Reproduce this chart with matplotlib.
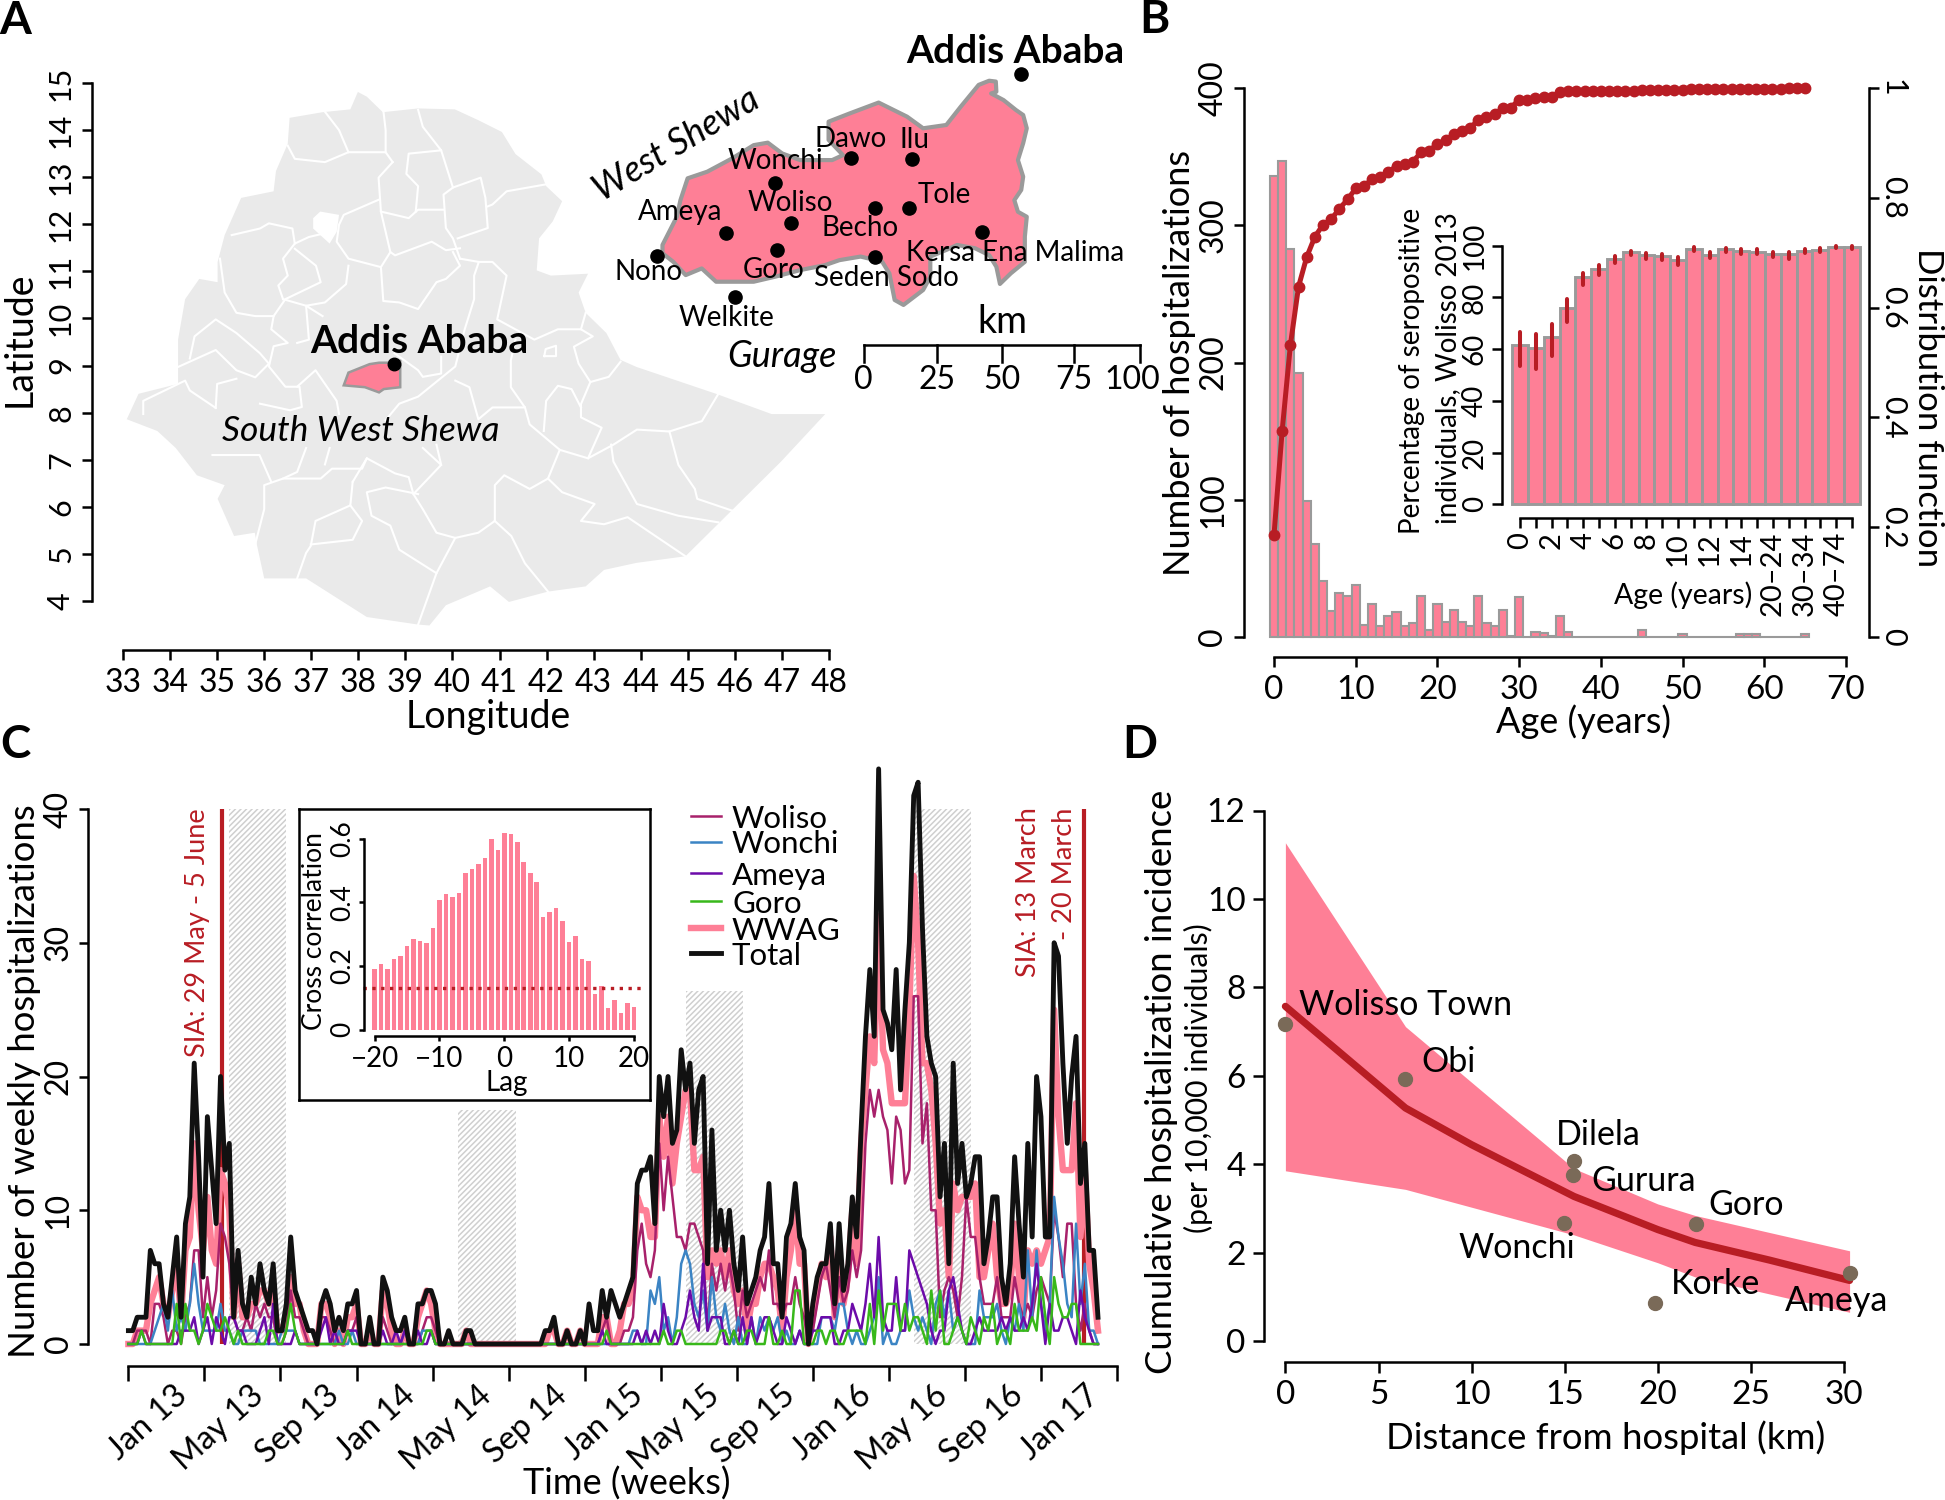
import numpy as np
import matplotlib
matplotlib.use('Agg')
import matplotlib.pyplot as plt
from matplotlib.lines import Line2D

plt.rcParams['font.family'] = ['Lato', 'DejaVu Sans']
plt.rcParams['hatch.linewidth'] = 1.1

W, H = 1945, 1500
PINK = '#FE7F96'
RED = '#B81D24'
GREY = '#9A9A9A'
LAND = '#EAEAEA'

# ---- panel A: map, lon/lat
land_lon = [36.54, 37.24, 37.83, 37.99, 38.18, 38.52, 39.27, 40.05, 40.55, 41.05, 41.34, 41.89, 41.99, 42.33, 42.13,
            41.84, 41.79, 42.09, 42.88, 42.68, 42.83, 43.27, 43.57, 43.91, 45.6, 46.78, 47.92, 46.98, 45.89, 44.95,
            43.91, 43.22, 42.83, 42.03, 41.2, 40.8, 39.86, 39.51, 39.27, 38.18, 36.89, 36.0, 35.85, 35.8, 35.36,
            35.01, 35.16, 34.57, 34.12, 33.73, 33.08, 33.33, 34.17, 34.17, 34.32, 34.62, 35.01, 35.01, 35.16, 35.51,
            36.2, 36.25, 36.5]
land_lat = [14.26, 14.38, 14.44, 14.81, 14.71, 14.38, 14.46, 14.44, 14.21, 13.96, 13.49, 13.06, 12.81, 12.49, 12.06,
            11.7, 11.02, 10.91, 10.95, 10.55, 10.12, 9.69, 9.12, 8.97, 8.4, 7.97, 7.97, 6.96, 5.88, 4.95,
            4.81, 4.66, 4.31, 4.2, 3.98, 4.31, 3.91, 3.48, 3.5, 3.66, 4.48, 4.48, 5.17, 5.45, 5.38,
            6.17, 6.46, 6.67, 7.25, 7.61, 7.86, 8.4, 8.61, 9.55, 10.41, 10.84, 10.77, 11.2, 11.77, 12.56,
            12.7, 13.13, 13.71]
borders = [
    [(36.5, 13.67), (36.65, 13.39), (37.29, 13.32), (37.79, 13.53), (38.58, 13.53), (38.73, 13.32)],
    [(37.79, 13.53), (37.59, 14.0), (37.29, 14.39)],
    [(38.53, 14.43), (38.58, 14.0), (38.58, 13.53)],
    [(39.27, 14.43), (39.37, 14.07), (39.76, 13.57), (39.07, 13.5), (39.02, 13.07), (39.27, 12.81), (39.22, 12.27)],
    [(39.76, 13.57), (40.01, 12.78), (40.6, 12.99), (40.7, 12.56), (40.75, 11.92), (40.11, 11.7)],
    [(42.0, 12.85), (41.15, 12.7), (40.85, 12.42), (40.75, 12.38)],
    [(40.01, 12.78), (39.81, 12.63), (39.86, 11.92), (40.01, 11.7), (40.16, 11.27)],
    [(38.73, 13.32), (38.43, 12.99), (38.48, 12.27), (39.07, 12.13), (39.27, 12.31), (39.81, 12.31)],
    [(38.43, 12.52), (37.69, 12.2), (37.59, 11.99), (37.54, 11.63), (37.79, 11.27), (38.48, 11.09), (38.68, 11.41),
     (38.78, 11.34), (39.56, 11.63), (39.86, 11.45), (40.16, 11.49)],
    [(38.48, 12.27), (38.58, 11.84), (38.68, 11.41)],
    [(35.31, 11.77), (35.91, 11.91), (36.1, 12.02), (36.6, 11.91), (36.65, 11.59), (36.95, 11.73), (37.29, 11.81)],
    [(36.65, 11.59), (36.4, 11.27), (36.5, 10.91), (36.3, 10.7), (36.4, 10.41)],
    [(36.65, 11.48), (37.1, 11.12), (37.2, 10.77), (36.45, 10.41), (36.2, 10.05), (36.15, 9.77), (36.5, 9.48),
     (36.2, 9.41), (36.1, 8.98), (36.45, 8.55), (36.75, 8.55), (36.8, 8.12), (36.55, 8.05), (35.91, 8.19)],
    [(37.79, 11.12), (37.74, 10.73), (37.29, 10.34), (36.89, 10.27), (37.24, 10.05)],
    [(36.4, 10.41), (36.89, 10.27), (36.95, 9.55), (36.7, 9.48)],
    [(38.48, 11.09), (38.53, 10.37), (38.87, 10.34), (39.27, 10.2), (39.66, 10.77), (39.86, 10.84), (40.16, 11.12),
     (40.01, 11.41)],
    [(40.16, 11.27), (40.56, 11.2), (40.46, 10.91), (40.46, 10.41), (40.26, 9.77), (40.06, 8.98), (39.27, 8.34),
     (38.87, 8.19), (38.58, 7.84)],
    [(40.56, 11.2), (40.85, 11.2), (41.15, 10.91), (40.95, 9.98), (41.74, 9.55), (42.24, 9.77), (42.73, 9.77)],
    [(42.83, 10.12), (42.73, 9.77), (42.98, 9.62), (42.58, 9.4), (42.68, 9.04), (42.93, 8.65), (43.32, 8.76),
     (43.57, 9.08)],
    [(42.93, 8.65), (42.73, 8.18), (42.73, 7.9), (43.17, 7.68), (42.88, 7.03), (43.42, 7.32), (43.92, 7.64),
     (44.61, 7.6), (45.3, 7.82), (45.65, 8.4)],
    [(41.34, 9.55), (41.24, 9.11), (41.24, 8.54), (41.54, 8.11), (41.64, 7.75), (42.28, 7.21), (42.88, 7.03)],
    [(41.54, 8.11), (40.85, 8.11), (40.55, 7.86), (40.36, 8.54), (40.06, 8.68)],
    [(41.94, 7.61), (41.99, 8.25), (42.24, 8.57), (42.53, 8.5), (42.73, 8.11)],
    [(43.37, 7.32), (43.42, 6.96), (43.92, 6.06), (44.8, 5.81), (45.65, 5.67)],
    [(44.61, 7.6), (44.8, 6.89), (45.15, 6.38), (45.2, 6.17), (45.94, 5.92)],
    [(42.28, 7.21), (42.03, 6.6), (41.64, 6.38), (41.1, 6.67), (40.9, 6.46), (40.9, 5.7)],
    [(42.03, 6.6), (42.33, 6.31), (43.02, 6.06), (42.73, 5.7), (43.22, 5.63), (43.72, 5.78), (44.95, 4.95)],
    [(40.9, 5.7), (41.25, 5.38), (41.54, 4.8), (42.03, 4.2)],
    [(40.9, 5.7), (40.55, 5.45), (40.06, 5.34), (39.66, 4.59), (39.27, 3.5)],
    [(40.06, 5.34), (39.66, 5.45), (39.37, 5.95), (39.17, 6.27), (39.76, 6.89), (39.37, 7.25)],
    [(39.17, 6.27), (39.07, 6.63), (38.78, 6.71), (38.18, 7.03), (38.08, 6.81), (37.44, 6.81), (37.2, 6.6),
     (36.4, 6.6), (36.0, 6.46), (36.0, 5.95), (35.8, 5.17)],
    [(39.27, 6.27), (38.58, 6.41), (38.18, 6.31), (38.28, 5.81), (38.68, 5.6), (38.87, 5.09), (39.66, 4.59)],
    [(37.88, 6.53), (37.83, 6.03), (37.09, 5.7), (36.99, 5.17), (36.89, 5.02), (36.7, 4.48)],
    [(36.99, 5.2), (37.88, 5.3), (38.08, 5.7), (37.83, 6.03)],
    [(34.9, 7.1), (35.9, 7.1), (36.15, 6.53)],
    [(34.97, 8.1), (34.42, 8.47), (34.32, 8.68), (33.43, 8.25), (33.43, 7.97)],
    [(34.17, 8.97), (34.97, 9.33), (35.41, 8.9), (35.81, 8.75), (36.1, 9.04)],
    [(34.42, 9.15), (34.52, 9.62), (34.97, 9.98), (35.41, 9.69), (35.91, 9.26), (36.1, 9.04)],
    [(35.06, 11.27), (35.16, 10.55), (35.41, 10.12), (35.81, 10.05), (36.2, 10.05)],
    [(34.97, 8.1), (35.0, 8.61), (35.41, 8.72)],
    [(36.7, 8.55), (37.09, 8.9), (37.54, 8.25), (37.59, 7.97)],
    [(38.77, 9.26), (39.27, 8.9), (39.37, 8.76), (39.76, 8.83), (39.76, 9.19)],
    [(38.18, 7.03), (37.88, 6.53)],
    [(36.89, 7.25), (36.7, 6.74), (36.4, 6.6)],
    [(37.39, 7.25), (37.29, 6.9)],
    [(39.66, 7.32), (39.76, 6.89)],
    [(41.95, 9.2), (42.2, 9.2), (42.2, 9.42), (41.98, 9.35), (41.95, 9.2)],
]
lake_lon = [37.04, 37.19, 37.59, 37.54, 37.39, 37.04]
lake_lat = [12.13, 12.27, 12.2, 11.84, 11.59, 11.91]
zone_lon = [37.69, 37.79, 38.24, 38.44, 38.69, 38.89, 38.89, 38.54, 38.44, 38.14]
zone_lat = [8.58, 8.85, 9.03, 9.06, 9.06, 9.1, 8.54, 8.5, 8.43, 8.54]

# enlarged zone, km from the scale bar origin
zoom_x = [45.4, 47.8, 48, 46.1, 50.6, 55.1, 57.7, 59, 57.7, 55.8, 57.7, 57, 54.5, 55.8, 59, 58.3, 58.3, 53.2, 49.3, 48,
          45.4, 40.3, 33.8, 29.9, 24.1, 24.1, 21.5, 14.4, 11.2, 9.3, 6.7, -1.1, -8.8, -14, -23, -32.1, -39.8, -46.3,
          -53.4, -58.6, -64.4, -68.9, -72.8, -72.8, -67.6, -66.3, -63.7, -56.6, -47.6, -39.8, -34.7, -29.5, -23,
          -11.4, -7.5, -12.7, -12.7, -5, 5.4, 15.7, 21.5, 29.9, 35.1, 41.6]
zoom_y = [95.6, 95.3, 91.6, 91, 88.6, 85, 83.2, 78.4, 73, 66.9, 60.9, 56.1, 52.4, 48.2, 46.4, 39.2, 30.1, 25.9, 22.1, 28.3,
          32.5, 35, 36.2, 34.4, 32, 24.7, 19.9, 14.5, 16.3, 25.9, 30.1, 32, 30.7, 28.9, 27.1, 24.7, 22.9, 22.9,
          22.9, 27.7, 25.3, 30.1, 33.2, 36.2, 46.4, 52.4, 60.3, 62.7, 67.5, 72.3, 73.2, 69.3, 66.9,
          66.9, 68.7, 74.2, 80.8, 83.8, 87.7, 82.6, 78.4, 79.6, 86.2, 94.1]
town_x = [56.8, -4.7, 17.3, -32, -26.4, -49.8, -31.2, 4, 16.4, 42.8, 4, -74.7, -46.4]
town_y = [97.9, 67.6, 67.3, 58.6, 44.2, 40.6, 34.2, 49.7, 49.7, 40.9, 31.7, 32.1, 17.4]
town_names = ['Dawo', 'Ilu', 'Wonchi', 'Tole', 'Woliso', 'Ameya', 'Becho', 'Kersa Ena Malima', 'Nono', 'Goro',
              'Seden Sodo', 'Welkite']
name_x = [-4.9, 18.3, -31.8, 29, -26.7, -66.3, -1.3, 54.9, -78, -32.5, 8.3, -49.5]
name_y = [74.5, 74.2, 66.6, 54.3, 51.2, 48.2, 42.2, 33.2, 26.5, 27.1, 24.1, 9.6]
scale_km = [0, 26.7, 50, 76, 100]
scale_lab = ['0', '25', '50', '75', '100']

# ---- panel B
age = np.arange(66)
hosp = [336, 347, 283, 192, 99, 68, 41, 19, 32, 30, 38, 9, 24, 8, 15, 18, 8, 10, 30, 5, 24, 11, 20, 11, 8, 30, 10, 8,
        20, 1, 29, 0, 4, 3, 1, 15, 4, 0, 0, 0, 0, 0, 0, 0, 0, 5, 0, 0, 0, 0, 2, 0, 0, 0, 0, 0, 0, 2, 2, 2, 0, 0, 0, 0,
        0, 2]
cdf = [.186, .376, .531, .638, .692, .729, .751, .761, .78, .797, .817, .821, .834, .838, .847, .858, .861, .866, .883,
       .886, .898, .905, .916, .922, .927, .942, .948, .953, .963, .964, .979, .979, .981, .983, .984, .993, .995,
       .995, .995, .995, .995, .995, .995, .995, .995, .997, .997, .997, .997, .997, .997, .998, .998, .998, .998,
       .998, .999, .999, .999, .999, .999, .999, .999, 1, 1, 1]
sero = [61.6, 60.3, 64.7, 75.8, 87.8, 91, 95, 97.7, 96.4, 96, 94.3, 98.8, 96.4, 98.7, 98, 97.7, 96.9, 96.6, 98, 98.4,
        99.5, 99.5]
sero_hi = [66.8, 65.9, 69.6, 79.3, 89.6, 92.4, 96, 98, 97.3, 96.8, 95.5, 99.4, 97.4, 99, 98.6, 98.6, 97.6, 97.6, 98.8,
           99.1, 100, 100]
sero_lo = [53.6, 52.2, 57.3, 70.4, 84.7, 88.7, 93.4, 96.4, 94.7, 94.5, 92.4, 98, 95.1, 97.4, 96.6, 96.6, 95.5, 95, 97,
           97.4, 99, 98.8]
sero_lab = ['0', '2', '4', '6', '8', '10', '12', '14', '20\u201324', '30\u201334', '40\u201374']

# ---- panel C, weekly counts
total = [1, 1, 2, 2, 2, 7, 6, 6, 3, 2, 5, 8, 2, 9, 11, 21, 14, 5, 17, 13,
         9, 20, 13, 15, 2, 7, 3, 2, 5, 3, 6, 4, 3, 6, 1, 1, 3, 8, 4, 3,
         2, 1, 1, 0, 3, 4, 3, 1, 2, 1, 3, 3, 4, 0, 0, 2, 0, 0, 5, 4,
         2, 1, 1, 2, 0, 0, 3, 3, 4, 4, 3, 0, 0, 1, 0, 0, 0, 1, 1, 0,
         0, 0, 0, 0, 0, 0, 0, 0, 0, 0, 0, 0, 0, 0, 0, 1, 1, 2, 0, 0,
         1, 0, 0, 1, 0, 3, 1, 1, 4, 2, 4, 3, 2, 3, 4, 5, 12, 13, 13, 14,
         9, 20, 17, 20, 15, 16, 22, 19, 21, 15, 19, 20, 6, 16, 7, 10, 7, 10, 6, 4,
         8, 3, 4, 5, 7, 8, 12, 6, 6, 2, 8, 9, 12, 8, 7, 0, 3, 5, 6, 6,
         9, 3, 9, 4, 6, 11, 8, 16, 23, 28, 23, 43, 25, 24, 22, 28, 19, 25, 30, 41,
         42, 31, 23, 21, 20, 11, 15, 6, 21, 12, 15, 11, 12, 14, 14, 6, 8, 11, 11, 5,
         3, 6, 14, 9, 5, 15, 8, 20, 17, 8, 8, 30, 29, 21, 15, 20, 23, 12, 15, 7,
         7, 2]
wwag = [0, 0, 1, 1, 1, 3, 4, 5, 3, 2, 4, 6, 2, 7, 8, 15, 10, 7, 11, 7,
        6, 13, 12, 10, 2, 6, 2, 2, 3, 3, 4, 4, 3, 4, 1, 1, 2, 5, 3, 3,
        1, 0, 0, 0, 3, 3, 2, 0, 1, 0, 2, 2, 3, 0, 0, 1, 0, 0, 4, 3,
        1, 0, 0, 1, 0, 0, 2, 3, 4, 3, 1, 0, 0, 0, 0, 0, 0, 1, 0, 0,
        0, 0, 0, 0, 0, 0, 0, 0, 0, 0, 0, 0, 0, 0, 0, 0, 1, 1, 0, 0,
        1, 0, 0, 1, 0, 0, 0, 0, 2, 2, 0, 0, 1, 3, 3, 4, 11, 10, 10, 8,
        8, 17, 14, 17, 12, 15, 17, 19, 19, 13, 13, 14, 5, 7, 6, 7, 5, 7, 4, 3,
        4, 1, 3, 3, 5, 6, 6, 5, 4, 1, 5, 7, 10, 6, 6, 0, 2, 4, 6, 5,
        8, 2, 6, 3, 5, 10, 6, 15, 19, 23, 21, 32, 22, 21, 18, 18, 18, 18, 25, 35,
        30, 21, 21, 19, 15, 9, 10, 5, 12, 10, 11, 11, 11, 12, 5, 5, 7, 9, 5, 3,
        3, 4, 9, 5, 2, 7, 6, 7, 6, 7, 8, 25, 17, 13, 13, 13, 18, 8, 13, 6,
        4, 1]
woliso = [0, 0, 1, 1, 1, 0, 3, 3, 2, 0, 1, 1, 0, 2, 3, 7, 7, 2, 5, 2,
          4, 9, 8, 6, 2, 1, 1, 2, 1, 3, 2, 3, 2, 2, 0, 0, 1, 4, 2, 2,
          1, 0, 0, 0, 2, 2, 1, 0, 0, 0, 1, 1, 2, 0, 0, 0, 0, 0, 2, 1,
          0, 0, 0, 0, 0, 0, 0, 1, 2, 2, 1, 0, 0, 0, 0, 0, 0, 0, 0, 0,
          0, 0, 0, 0, 0, 0, 0, 0, 0, 0, 0, 0, 0, 0, 0, 0, 0, 0, 0, 0,
          0, 0, 0, 0, 0, 0, 0, 0, 1, 2, 0, 0, 0, 1, 1, 2, 7, 9, 6, 5,
          7, 15, 10, 14, 11, 8, 8, 7, 9, 9, 8, 7, 1, 6, 4, 6, 4, 6, 4, 1,
          4, 2, 3, 4, 5, 4, 7, 3, 3, 2, 3, 3, 5, 3, 2, 0, 1, 3, 5, 6,
          4, 2, 5, 3, 4, 7, 5, 7, 15, 19, 17, 19, 17, 16, 12, 17, 16, 12, 13, 26,
          26, 15, 18, 10, 10, 2, 4, 5, 4, 2, 5, 11, 8, 8, 5, 3, 3, 3, 5, 2,
          2, 2, 5, 3, 2, 3, 2, 4, 5, 4, 3, 10, 8, 5, 9, 9, 3, 1, 3, 1,
          0, 0]
wonchi = [0, 0, 0, 0, 0, 0, 1, 2, 3, 1, 4, 1, 2, 1, 3, 6, 3, 1, 1, 1,
          1, 3, 1, 1, 0, 0, 1, 1, 1, 1, 0, 0, 0, 0, 0, 1, 1, 1, 1, 0,
          0, 0, 0, 0, 0, 0, 0, 0, 1, 0, 0, 1, 0, 0, 0, 0, 0, 0, 0, 0,
          0, 0, 0, 1, 0, 0, 0, 1, 1, 1, 0, 0, 0, 0, 0, 0, 0, 0, 0, 0,
          0, 0, 0, 0, 0, 0, 0, 0, 0, 0, 0, 0, 0, 0, 0, 0, 0, 0, 0, 0,
          0, 0, 0, 0, 0, 0, 0, 0, 0, 0, 0, 0, 0, 0, 0, 1, 1, 0, 0, 4,
          3, 5, 1, 2, 0, 2, 6, 7, 6, 3, 2, 4, 1, 5, 2, 1, 3, 1, 0, 2,
          0, 0, 2, 0, 2, 1, 2, 1, 2, 0, 1, 0, 0, 1, 0, 0, 0, 0, 2, 2,
          2, 1, 3, 3, 1, 0, 1, 0, 0, 1, 2, 5, 0, 1, 0, 0, 1, 1, 4, 2,
          1, 2, 1, 0, 3, 4, 2, 4, 1, 2, 1, 0, 0, 0, 4, 2, 2, 2, 3, 1,
          0, 2, 1, 3, 1, 7, 2, 7, 3, 1, 3, 11, 8, 6, 3, 2, 9, 3, 6, 1,
          1, 0]
ameya = [0, 0, 0, 1, 0, 0, 0, 0, 0, 0, 0, 0, 1, 1, 1, 2, 0, 1, 2, 0,
         2, 1, 0, 2, 2, 1, 1, 0, 0, 0, 1, 2, 0, 3, 0, 0, 0, 0, 1, 0,
         0, 0, 0, 0, 1, 2, 0, 1, 0, 0, 1, 1, 1, 0, 0, 0, 0, 0, 1, 0,
         0, 1, 0, 1, 0, 0, 1, 0, 0, 1, 0, 0, 0, 0, 0, 0, 0, 0, 0, 0,
         0, 0, 0, 0, 0, 0, 0, 0, 0, 0, 0, 0, 0, 0, 0, 0, 0, 0, 0, 0,
         0, 0, 0, 0, 0, 0, 0, 0, 1, 0, 0, 0, 0, 0, 0, 0, 1, 0, 1, 0,
         1, 0, 3, 1, 0, 0, 1, 2, 4, 2, 1, 6, 1, 2, 2, 2, 0, 0, 1, 0,
         2, 0, 2, 0, 1, 2, 2, 1, 0, 0, 2, 1, 0, 1, 0, 0, 1, 1, 2, 2,
         2, 0, 0, 1, 1, 3, 2, 1, 3, 6, 2, 8, 2, 1, 1, 5, 1, 1, 7, 6,
         5, 4, 3, 1, 0, 1, 1, 4, 5, 3, 1, 0, 0, 1, 2, 1, 1, 1, 1, 2,
         1, 2, 1, 1, 2, 1, 3, 6, 3, 0, 3, 1, 1, 2, 2, 1, 0, 4, 2, 1,
         0, 0]
goro = [0, 0, 0, 1, 0, 0, 0, 0, 0, 0, 0, 3, 0, 3, 1, 1, 0, 1, 3, 2,
        1, 1, 2, 1, 0, 1, 0, 0, 0, 0, 0, 0, 1, 1, 0, 0, 1, 3, 1, 0,
        0, 0, 0, 0, 0, 0, 0, 0, 0, 0, 1, 0, 0, 0, 0, 0, 0, 0, 0, 0,
        0, 0, 0, 0, 0, 0, 0, 0, 1, 1, 0, 0, 0, 0, 0, 0, 0, 0, 0, 0,
        0, 0, 0, 0, 0, 0, 0, 0, 0, 0, 0, 0, 0, 0, 0, 0, 0, 0, 0, 0,
        0, 0, 0, 0, 0, 0, 0, 0, 0, 1, 0, 0, 0, 0, 0, 0, 0, 0, 0, 0,
        0, 0, 1, 0, 0, 1, 1, 0, 0, 0, 0, 0, 0, 0, 0, 1, 1, 0, 1, 0,
        0, 1, 1, 0, 0, 0, 2, 0, 0, 1, 0, 0, 4, 4, 0, 0, 0, 1, 1, 0,
        1, 1, 0, 0, 1, 1, 1, 1, 0, 3, 0, 4, 1, 3, 3, 3, 1, 3, 1, 2,
        2, 1, 0, 4, 1, 4, 0, 0, 1, 2, 1, 0, 2, 1, 0, 2, 1, 3, 0, 1,
        1, 0, 3, 1, 1, 1, 2, 1, 5, 2, 0, 5, 3, 2, 2, 3, 3, 0, 0, 0,
        0, 0]
time_lab = ['Jan 13', 'May 13', 'Sep 13', 'Jan 14', 'May 14', 'Sep 14', 'Jan 15', 'May 15', 'Sep 15', 'Jan 16',
            'May 16', 'Sep 16', 'Jan 17']
season_start = [22.9, 75.2, 127.1, 179]
season_end = [36, 88.3, 140, 192]
season_top = [40, 17.5, 26.4, 40]
sia_weeks = [21.3, 217.9]
ccf_lag = np.arange(-20, 21)
ccf = [.19, .206, .19, .222, .23, .264, .286, .278, .272, .32, .406, .425, .416, .43, .493, .503, .521, .538, .597,
       .563, .616, .613, .589, .527, .492, .462, .353, .369, .382, .342, .274, .293, .221, .215, .112, .138, .068,
       .092, .052, .085, .072]
ccf_level = .131

# ---- panel D
dist = [0, 6.42, 15.49, 15.46, 14.96, 22.05, 19.84, 30.34]
incid = [7.17, 5.92, 4.08, 3.76, 2.68, 2.64, .85, 1.54]
place = ['Wolisso Town', 'Obi', 'Dilela', 'Gurura', 'Wonchi', 'Goro', 'Korke', 'Ameya']
place_x = [.73, 7.28, 14.54, 16.44, 9.32, 22.69, 20.68, 26.82]
place_y = [7.59, 6.31, 4.66, 3.62, 2.11, 3.08, 1.29, .91]
fit_x = [0, 6.45, 10, 15.5, 20, 22, 26, 30.3]
fit_y = [7.57, 5.27, 4.44, 3.27, 2.52, 2.23, 1.83, 1.37]
band_x = [0, 6.45, 15.5, 20, 22, 30.3]
band_hi = [11.27, 7.11, 3.9, 3.1, 2.84, 2.04]
band_lo = [3.85, 3.43, 2.4, 1.77, 1.45, .65]

fig = plt.figure(figsize=(W / 100, H / 100), dpi=100)


def px_axes(x0, x1, y_top, y_bot, z=1):
    ax = fig.add_axes([x0 / W, 1 - y_bot / H, (x1 - x0) / W, (y_bot - y_top) / H], zorder=z)
    ax.patch.set_visible(False)
    return ax


def r_axes(ax, left=None, bottom=None, tick=8, lw=1.8):
    # R style: axis lines detached from the plot box, offsets in pixels
    for s in ax.spines.values():
        s.set_visible(False)
        s.set_linewidth(lw)
    ax.spines['left'].set_visible(left is not None)
    ax.spines['bottom'].set_visible(bottom is not None)
    if left is not None:
        ax.spines['left'].set_position(('outward', left * 0.72))
    if bottom is not None:
        ax.spines['bottom'].set_position(('outward', bottom * 0.72))
    ax.tick_params(length=tick * 0.72, width=lw)


def ftext(x, y, s, **kw):
    kw.setdefault('ha', 'center')
    kw.setdefault('va', 'center')
    return fig.text(x / W, 1 - y / H, s, **kw)


def rot_ylabels(ax, size, pad):
    ax.tick_params(axis='y', labelsize=size, pad=pad, labelrotation=90)
    for lab in ax.get_yticklabels():
        lab.set_va('center')


# ---------- A
axA = px_axes(123, 829, 83, 601)
axA.set_xlim(33, 48)
axA.set_ylim(4, 15)
r_axes(axA, left=31, bottom=49, tick=10)
axA.fill(land_lon, land_lat, color=LAND, lw=0, clip_on=False)
for b in borders:
    axA.plot([p[0] for p in b], [p[1] for p in b], color='white', lw=1.5, clip_on=False, solid_joinstyle='round')
axA.fill(lake_lon, lake_lat, color='white', lw=0)
axA.fill(zone_lon, zone_lat, facecolor=PINK, edgecolor=GREY, lw=1.8)
axA.plot([38.75], [9.03], 'o', color='black', ms=9)
axA.text(39.29, 9.52, 'Addis Ababa', fontsize=28, fontweight='bold', ha='center', va='center')
axA.text(38.06, 7.61, 'South West Shewa', fontsize=25.5, style='italic', ha='center', va='center')
axA.set_xticks(np.arange(33, 49))
axA.set_yticks(np.arange(4, 16))
axA.spines['bottom'].set_bounds(33, 48)
axA.spines['left'].set_bounds(4, 15)
axA.tick_params(axis='x', labelsize=23, pad=6)
rot_ylabels(axA, 22, 5)
ftext(488, 717, 'Longitude', fontsize=27)
ftext(20, 339, 'Latitude', fontsize=27, rotation=90)

axZ = px_axes(600, 1160, 60, 410, z=2)
axZ.set_xlim(-95.4, 107.2)
axZ.set_ylim(-23.5, 103.1)
axZ.axis('off')
axZ.fill(zoom_x, zoom_y, facecolor=PINK, edgecolor=GREY, lw=3, joinstyle='round')
axZ.plot(town_x, town_y, 'o', color='black', ms=9.5, clip_on=False, ls='none')
for s, x, y in zip(town_names, name_x, name_y):
    axZ.text(x, y, s, fontsize=20, ha='center', va='center')
axZ.text(54.8, 106, 'Addis Ababa', fontsize=28, fontweight='bold', ha='center', va='center', clip_on=False)
axZ.text(-29.5, -4.2, 'Gurage', fontsize=26, style='italic', ha='center', va='center')
axZ.text(-67.6, 72.3, 'West Shewa', fontsize=26, style='italic', rotation=31, ha='center', va='center')
axZ.text(50, 8.4, 'km', fontsize=27, ha='center', va='center')
axZ.plot([scale_km[0], scale_km[-1]], [0, 0], color='black', lw=1.8, clip_on=False)
for k, s in zip(scale_km, scale_lab):
    axZ.plot([k, k], [0, -6], color='black', lw=1.8)
    axZ.text(k - (3 if s == '100' else 0), -12.7, s, fontsize=23, ha='center', va='center')

# ---------- B
axB = px_axes(1274, 1846, 88, 637)
axB.set_xlim(0, 70)
axB.set_ylim(0, 400)
r_axes(axB, left=30, bottom=20, tick=10)
axB.bar(age, hosp, width=1, facecolor=PINK, edgecolor=GREY, lw=1.5, clip_on=False)
axB.set_xticks(np.arange(0, 71, 10))
axB.set_yticks(np.arange(0, 401, 100))
axB.spines['bottom'].set_bounds(0, 70)
axB.spines['left'].set_bounds(0, 400)
axB.tick_params(axis='x', labelsize=24, pad=6)
rot_ylabels(axB, 23, 4)
ftext(1584, 722, 'Age (years)', fontsize=26)
ftext(1179, 363, 'Number of hospitalizations', fontsize=26, rotation=90)

axB2 = px_axes(1274, 1846, 88, 637, z=2)
axB2.set_xlim(0, 70)
axB2.set_ylim(0, 1)
for s in axB2.spines.values():
    s.set_visible(False)
axB2.spines['right'].set_visible(True)
axB2.spines['right'].set_linewidth(1.8)
axB2.spines['right'].set_position(('outward', 23 * 0.72))
axB2.spines['right'].set_bounds(0, 1)
axB2.set_xticks([])
axB2.yaxis.tick_right()
axB2.set_yticks([0, .2, .4, .6, .8, 1])
axB2.set_yticklabels(['0', '0.2', '0.4', '0.6', '0.8', '1'])
axB2.tick_params(axis='y', length=7, width=1.8, labelsize=22, pad=0, labelrotation=-90)
for lab in axB2.get_yticklabels():
    lab.set_va('center')
axB2.plot(age, cdf, '-o', color=RED, lw=3.6, ms=7.5, clip_on=False)
ftext(1928, 408, 'Distribution function', fontsize=25, rotation=-90)

axI = px_axes(1520, 1852, 245.7, 504.3, z=3)
axI.set_xlim(0, 21)
axI.set_ylim(0, 100)
r_axes(axI, left=18, bottom=13.4, tick=10)
idx = np.arange(len(sero))
axI.bar(idx, sero, width=1, facecolor=PINK, edgecolor=GREY, lw=2.1, clip_on=False)
axI.vlines(idx, sero_lo, sero_hi, color=RED, lw=2.9, capstyle='round', clip_on=False)
axI.set_xticks(idx)
axI.set_xticklabels([sero_lab[i // 2] if i % 2 == 0 else '' for i in idx], rotation=90)
axI.set_yticks(np.arange(0, 101, 20))
axI.spines['bottom'].set_bounds(0, 21)
axI.spines['left'].set_bounds(0, 100)
axI.tick_params(axis='x', labelsize=21, pad=3)
rot_ylabels(axI, 20, 3)
ftext(1683, 595, 'Age (years)', fontsize=20.5)
ftext(1412, 371, 'Percentage of seropositive', fontsize=20, rotation=90)
ftext(1448, 368, 'individuals, Wolisso 2013', fontsize=20, rotation=90)

# ---------- C
axC = px_axes(128.4, 1117, 809, 1344)
axC.set_xlim(0, 225.33)
axC.set_ylim(0, 40)
r_axes(axC, left=40, bottom=22, tick=15)
axC.spines['left'].set_bounds(0, 40)
axC.spines['bottom'].set_bounds(0, 225.33)
axC.tick_params(axis='y', length=9 * 0.72)
for a, b, t in zip(season_start, season_end, season_top):
    axC.bar(a, t, width=b - a, align='edge', facecolor='white', edgecolor='#cfcfcf', hatch='//////', lw=0, zorder=1)
axC.vlines(sia_weeks, 0, 40, color=RED, lw=3, zorder=2)
series = [(wwag, PINK, 4.6), (woliso, '#A8216B', 1.8), (wonchi, '#3B84C4', 1.8), (ameya, '#6C0BA9', 1.8),
          (goro, '#38B81A', 1.8), (total, '#111111', 3.5)]
for vals, col, lw in series:
    axC.plot(np.arange(len(vals)), vals, color=col, lw=lw, clip_on=False, zorder=3)
axC.set_xticks(np.arange(14) * 52 / 3)
axC.set_xticklabels([])
axC.set_yticks(np.arange(0, 41, 10))
rot_ylabels(axC, 23, 4)
for i, s in enumerate(time_lab):
    ftext(128.4 + 76 * i + 55, 1391, s, fontsize=23.5, rotation=42, ha='right', va='center', rotation_mode='anchor')
ftext(627, 1484, 'Time (weeks)', fontsize=26)
ftext(25, 1081, 'Number of weekly hospitalizations', fontsize=26.3, rotation=90)
ftext(197, 933, 'SIA: 29 May - 5 June', fontsize=19.5, rotation=90, color=RED)
ftext(1028, 892, 'SIA: 13 March', fontsize=19.5, rotation=90, color=RED)
ftext(1064, 874, '- 20 March', fontsize=19.5, rotation=90, color=RED)

leg_y = [816, 841.5, 873, 901, 928, 953]
leg_names = ['Woliso', 'Wonchi', 'Ameya', 'Goro', 'WWAG', 'Total']
leg_style = [series[1], series[2], series[3], series[4], series[0], series[5]]
for y, s, st in zip(leg_y, leg_names, leg_style):
    fig.add_artist(Line2D([691 / W, 721 / W], [1 - y / H, 1 - y / H], color=st[1], lw=st[2]))
    ftext(732, y + 3, s, fontsize=22.5, ha='left')

axBox = px_axes(299, 650.4, 809, 1100, z=3)
axBox.patch.set_visible(True)
axBox.set_facecolor('white')
axBox.set_xticks([])
axBox.set_yticks([])
for s in axBox.spines.values():
    s.set_linewidth(1.8)

axL = px_axes(374.6, 634, 838.5, 1029.8, z=4)
axL.set_xlim(-20, 20)
axL.set_ylim(0, .6)
r_axes(axL, left=10.6, bottom=5.7, tick=5)
axL.spines['left'].set_bounds(0, .6)
axL.spines['bottom'].set_bounds(-20, 20)
axL.bar(ccf_lag, ccf, width=.7, color=PINK, lw=0, clip_on=False)
axL.plot([-21.8, 21.3], [ccf_level, ccf_level], ls=':', color=RED, lw=2.4, clip_on=False)
axL.set_xticks([-20, -10, 0, 10, 20])
axL.set_xticklabels(['\u221220', '\u221210', '0', '10', '20'])
axL.set_yticks([0, .2, .4, .6])
axL.set_yticklabels(['0', '0.2', '0.4', '0.6'])
axL.tick_params(axis='x', labelsize=20, pad=4)
rot_ylabels(axL, 19, 3)
ftext(507, 1083, 'Lag', fontsize=20)
ftext(314, 931, 'Cross correlation', fontsize=19, rotation=90)

# ---------- D
axD = px_axes(1285.4, 1844, 810.5, 1341)
axD.set_xlim(0, 30)
axD.set_ylim(0, 12)
r_axes(axD, left=21.8, bottom=21, tick=11)
axD.spines['left'].set_bounds(0, 12)
axD.spines['bottom'].set_bounds(0, 30)
axD.fill_between(band_x, band_lo, band_hi, color=PINK, lw=0, clip_on=False)
axD.plot(fit_x, fit_y, color=RED, lw=5.2, clip_on=False, solid_capstyle='round')
axD.plot(dist, incid, 'o', color='#7A6A58', ms=10, clip_on=False, ls='none')
for s, x, y in zip(place, place_x, place_y):
    axD.text(x, y, s, fontsize=24.5, ha='left', va='center', clip_on=False)
axD.set_xticks(np.arange(0, 31, 5))
axD.set_yticks(np.arange(0, 13, 2))
axD.tick_params(labelsize=24, pad=5)
ftext(1606, 1438, 'Distance from hospital (km)', fontsize=26.3)
ftext(1162, 1082, 'Cumulative hospitalization incidence', fontsize=26.3, rotation=90)
ftext(1198, 1078, '(per 10,000 individuals)', fontsize=21.7, rotation=90)

# panel letters
for s, x, y in [('A', 15, 21), ('B', 1154, 20), ('C', 15, 745), ('D', 1140, 745)]:
    ftext(x, y, s, fontsize=33, fontweight='bold')

fig.savefig('out.png', dpi=100)
